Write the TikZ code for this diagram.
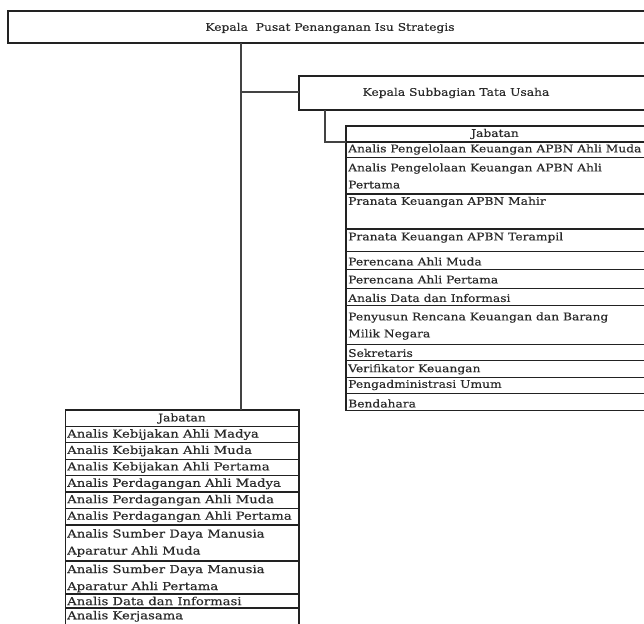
\documentclass[tikz,border=0pt]{standalone}
\usepackage{fontspec}
\setmainfont[FakeStretch=1.17,FakeBold=0.4]{DejaVu Serif}
\newfontfamily\leftfont[FakeStretch=1.2,FakeBold=0.4]{DejaVu Serif}
\definecolor{linec}{HTML}{222222}
\definecolor{txtc}{HTML}{2A2A2A}
\newcommand{\jrow}[5]{\node[cellbox, minimum width={#3-#2}, minimum height={#5-#4}, anchor=north west] (#1) at (#2,#4) {};}
\begin{document}
\begin{tikzpicture}[x=1pt,y=-1pt,
  cellbox/.style={draw=linec, line width=1.2pt, rectangle, inner sep=0pt, outer sep=0pt},
  conn/.style={draw=linec!85, line width=1.6pt},
  lbl/.style={font=\fontsize{10.5}{17}\selectfont, text=txtc, inner sep=0pt, anchor=west, align=left},
  llbl/.style={lbl, font=\leftfont\fontsize{11}{17}\selectfont},
  ctr/.style={font=\fontsize{10.5}{17}\selectfont, text=txtc, inner sep=0pt, anchor=center}]
\useasboundingbox[fill=white] (0,0) rectangle (644,623);

% top and sub boxes
\jrow{top}{8}{660}{11}{43}
\node[ctr] (toptxt) at (330,28) {Kepala\ \ Pusat Penanganan Isu Strategis};
\jrow{sub}{299}{660}{76}{110}
\node[ctr] (subtxt) at (456,93) {Kepala Subbagian Tata Usaha};

% right table
\jrow{rth}{346}{645}{126}{142}
\node[ctr] (rthtxt) at (495,134) {Jabatan};
\jrow{r1}{346}{645}{142}{157.3}
\jrow{r2}{346}{645}{157.3}{194}
\jrow{r3}{346}{645}{194}{229}
\jrow{r4}{346}{645}{229}{251.7}
\jrow{r5}{346}{645}{251.7}{269.3}
\jrow{r6}{346}{645}{269.3}{288.3}
\jrow{r7}{346}{645}{288.3}{305.7}
\jrow{r8}{346}{645}{305.7}{344.3}
\jrow{r9}{346}{645}{344.3}{360.7}
\jrow{r10}{346}{645}{360.7}{377.3}
\jrow{r11}{346}{645}{377.3}{393.3}
\jrow{r12}{346}{645}{393.3}{410.7}
\node[lbl] (r1t) at (348,149.5) {Analis Pengelolaan Keuangan APBN Ahli Muda};
\node[lbl] (r2t) at (348,176) {Analis Pengelolaan Keuangan APBN Ahli\\Pertama};
\node[lbl] (r3t) at (348,202) {Pranata Keuangan APBN Mahir};
\node[lbl] (r4t) at (348,237.5) {Pranata Keuangan APBN Terampil};
\node[lbl] (r5t) at (348,261.5) {Perencana Ahli Muda};
\node[lbl] (r6t) at (348,279.5) {Perencana Ahli Pertama};
\node[lbl] (r7t) at (348,298) {Analis Data dan Informasi};
\node[lbl] (r8t) at (348,326) {Penyusun Rencana Keuangan dan Barang\\Milik Negara};
\node[lbl] (r9t) at (348,353) {Sekretaris};
\node[lbl] (r10t) at (348,369.3) {Verifikator Keuangan};
\node[lbl] (r11t) at (348,385) {Pengadministrasi Umum};
\node[lbl] (r12t) at (348,403.5) {Bendahara};

% left table
\jrow{lth}{65.7}{299}{410}{426.4}
\node[ctr] (lthtxt) at (182,418.5) {Jabatan};
\jrow{l1}{65.7}{299}{426.4}{442.8}
\jrow{l2}{65.7}{299}{442.8}{459.2}
\jrow{l3}{65.7}{299}{459.2}{475.6}
\jrow{l4}{65.7}{299}{475.6}{492}
\jrow{l5}{65.7}{299}{492}{508.4}
\jrow{l6}{65.7}{299}{508.4}{525}
\jrow{l7}{65.7}{299}{525}{561}
\jrow{l8}{65.7}{299}{561}{594}
\jrow{l9}{65.7}{299}{594}{608}
\jrow{l10}{65.7}{299}{608}{640}
\node[llbl] (l1t) at (67,434.6) {Analis Kebijakan Ahli Madya};
\node[llbl] (l2t) at (67,451) {Analis Kebijakan Ahli Muda};
\node[llbl] (l3t) at (67,467.4) {Analis Kebijakan Ahli Pertama};
\node[llbl] (l4t) at (67,483.8) {Analis Perdagangan Ahli Madya};
\node[llbl] (l5t) at (67,500.2) {Analis Perdagangan Ahli Muda};
\node[llbl] (l6t) at (67,516.7) {Analis Perdagangan Ahli Pertama};
\node[llbl] (l7t) at (67,543) {Analis Sumber Daya Manusia\\Aparatur Ahli Muda};
\node[llbl] (l8t) at (67,578.5) {Analis Sumber Daya Manusia\\Aparatur Ahli Pertama};
\node[llbl] (l9t) at (67,601) {Analis Data dan Informasi};
\node[llbl] (l10t) at (67,616.3) {Analis Kerjasama};

% connectors
\coordinate (j1) at (240.7,92);
\draw[conn] (top.south -| j1) -- (lth.north -| j1);
\draw[conn] (j1) -- (j1 -| sub.west);
\draw[conn] ([xshift=25.7pt]sub.south west) |- (rth.south west);
\end{tikzpicture}
\end{document}
